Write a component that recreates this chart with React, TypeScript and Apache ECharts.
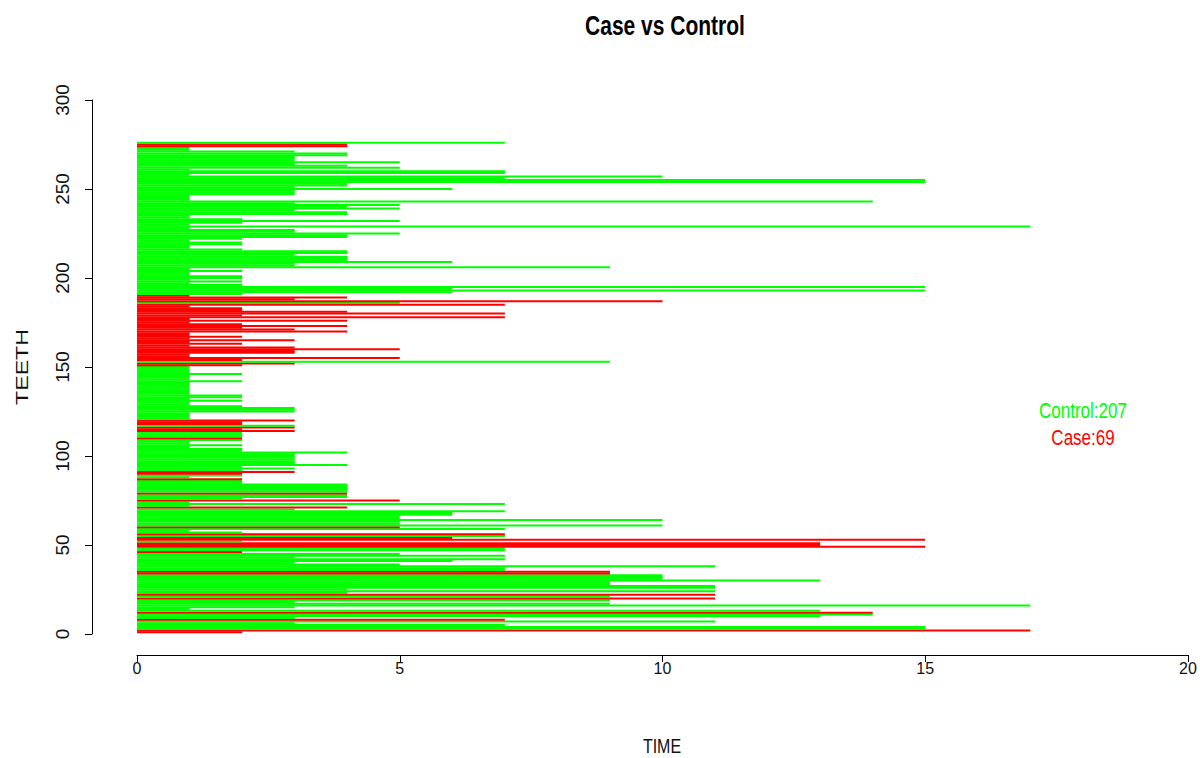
import React, { useEffect, useRef } from "react";
import * as echarts from "echarts";

// Follow-up time for each tooth, tooth 1 .. 276
const times: number[] = [
  2, 17, 15, 15, 7, 3, 11, 7, 3, 13,
  14, 14, 13, 1, 3, 17, 9, 3, 9, 11,
  9, 11, 4, 11, 4, 11, 11, 9, 9, 13,
  10, 10, 10, 9, 9, 7, 7, 11, 5, 3,
  6, 7, 3, 7, 5, 2, 7, 7, 15, 13,
  13, 2, 15, 6, 7, 7, 2, 1, 7, 5,
  10, 5, 5, 10, 5, 5, 6, 6, 7, 3,
  4, 1, 7, 1, 5, 2, 4, 4, 4, 4,
  4, 4, 4, 4, 2, 2, 2, 1, 2, 2,
  3, 2, 3, 2, 4, 3, 3, 3, 3, 3,
  3, 4, 2, 2, 1, 2, 1, 1, 2, 2,
  2, 2, 2, 3, 2, 3, 3, 2, 2, 3,
  1, 1, 1, 1, 3, 3, 3, 2, 1, 1,
  2, 1, 2, 2, 1, 1, 1, 1, 1, 1,
  1, 2, 1, 1, 1, 2, 1, 1, 1, 1,
  2, 3, 9, 2, 5, 1, 1, 3, 3, 5,
  3, 1, 2, 1, 3, 1, 2, 1, 1, 4,
  3, 2, 4, 2, 1, 4, 1, 7, 2, 7,
  4, 2, 2, 1, 7, 5, 10, 3, 4, 1,
  2, 6, 15, 6, 15, 2, 1, 2, 1, 2,
  2, 1, 1, 2, 1, 9, 3, 3, 6, 4,
  4, 4, 3, 4, 4, 2, 1, 1, 2, 2,
  1, 2, 4, 4, 5, 3, 3, 1, 17, 1,
  2, 5, 2, 1, 1, 4, 4, 3, 5, 4,
  5, 3, 14, 1, 1, 1, 3, 3, 3, 6,
  3, 4, 4, 15, 15, 7, 10, 1, 7, 7,
  1, 5, 4, 3, 5, 3, 3, 3, 4, 4,
  3, 1, 1, 4, 4, 7,
];

// 1 = case (red), 0 = control (green), tooth 1 .. 276
const isCase: number[] = [
  1, 1, 0, 0, 0, 0, 0, 1, 0, 0,
  0, 1, 0, 0, 0, 0, 0, 0, 0, 1,
  0, 1, 0, 0, 0, 0, 0, 0, 0, 0,
  0, 0, 0, 1, 1, 0, 0, 0, 0, 0,
  0, 0, 0, 0, 0, 1, 0, 0, 1, 1,
  1, 0, 1, 1, 0, 1, 0, 0, 0, 1,
  0, 0, 0, 0, 0, 0, 0, 0, 0, 0,
  1, 0, 0, 0, 1, 0, 0, 0, 1, 0,
  0, 0, 0, 0, 0, 0, 1, 0, 0, 1,
  1, 0, 0, 0, 0, 0, 0, 0, 0, 0,
  0, 0, 0, 0, 0, 0, 0, 0, 0, 1,
  0, 0, 0, 1, 1, 1, 0, 1, 1, 1,
  0, 0, 0, 0, 0, 0, 0, 0, 0, 0,
  0, 0, 0, 0, 0, 0, 0, 0, 0, 0,
  0, 0, 0, 0, 0, 0, 0, 0, 0, 0,
  1, 1, 0, 1, 1, 1, 1, 1, 1, 1,
  1, 1, 1, 1, 1, 1, 1, 1, 1, 1,
  1, 1, 1, 1, 1, 1, 1, 1, 1, 1,
  1, 1, 1, 1, 1, 0, 1, 1, 1, 1,
  0, 0, 0, 0, 0, 0, 0, 0, 0, 0,
  0, 0, 0, 0, 0, 0, 0, 0, 0, 0,
  0, 0, 0, 0, 0, 0, 0, 0, 0, 0,
  0, 0, 0, 0, 0, 0, 0, 0, 0, 0,
  0, 0, 0, 0, 0, 0, 0, 0, 0, 0,
  0, 0, 0, 0, 0, 0, 0, 0, 0, 0,
  0, 0, 0, 0, 0, 0, 0, 0, 0, 0,
  0, 0, 0, 0, 0, 0, 0, 0, 0, 0,
  0, 0, 0, 1, 1, 0,
];

const teeth: number[] = times.map((_, i) => i + 1);
const legendLabels: string[] = ["Control:207", "Case:69"];
const titleText = "Case vs Control";

const GREEN = "#00FF00";
const RED = "#FF0000";
const FONT = "Liberation Sans, Arial, sans-serif";

export default function App() {
  const ref = useRef<HTMLDivElement>(null);

  useEffect(() => {
    if (!ref.current) return;
    const chart = echarts.init(ref.current, null, { renderer: "svg" });
    const data = teeth.map((t, i) => [t, times[i], isCase[i]]);

    chart.setOption({
      animation: false,
      backgroundColor: "#ffffff",
      grid: { left: 137, right: 12, top: 100, bottom: 124 },
      xAxis: {
        type: "value",
        min: 0,
        max: 20,
        interval: 5,
        offset: 21,
        axisLine: { show: true, onZero: false, lineStyle: { color: "#000", width: 1 } },
        axisTick: { show: true, length: 7, lineStyle: { color: "#000" } },
        axisLabel: { margin: 5, fontSize: 16, color: "#111", fontFamily: FONT },
        splitLine: { show: false },
      },
      yAxis: {
        type: "value",
        min: 0,
        max: 300,
        interval: 50,
        offset: 45,
        axisLine: { show: true, onZero: false, lineStyle: { color: "#000", width: 1 } },
        axisTick: { show: true, length: 7, lineStyle: { color: "#000" } },
        axisLabel: { rotate: 90, margin: 20, fontSize: 19, color: "#111", fontFamily: FONT },
        splitLine: { show: false },
      },
      series: [
        {
          type: "custom",
          encode: { x: 1, y: 0 },
          data,
          renderItem: (params: any, api: any) => {
            const tooth = api.value(0);
            const t = api.value(1);
            const c = api.value(2);
            const p0 = api.coord([0, tooth]);
            const p1 = api.coord([t, tooth]);
            return {
              type: "line",
              shape: { x1: p0[0], y1: p0[1], x2: p1[0], y2: p1[1] },
              style: { stroke: c ? RED : GREEN, lineWidth: 2 },
            };
          },
        },
      ],
      graphic: [
        {
          type: "text",
          x: 665,
          y: 25,
          scaleY: 1.35,
          style: {
            text: titleText,
            fill: "#000",
            fontFamily: FONT,
            fontWeight: "bold",
            fontSize: 21,
            align: "center",
            verticalAlign: "middle",
          },
        },
        {
          type: "text",
          x: 662,
          y: 746,
          scaleY: 1.3,
          style: {
            text: "TIME",
            fill: "#111",
            fontFamily: FONT,
            fontSize: 16,
            align: "center",
            verticalAlign: "middle",
          },
        },
        {
          type: "text",
          x: 22,
          y: 367,
          rotation: Math.PI / 2,
          scaleX: 1.45,
          style: {
            text: "TEETH",
            fill: "#111",
            fontFamily: FONT,
            fontSize: 16,
            align: "center",
            verticalAlign: "middle",
          },
        },
        {
          type: "text",
          x: 1083,
          y: 410,
          scaleY: 1.35,
          style: {
            text: legendLabels[0],
            fill: GREEN,
            fontFamily: FONT,
            fontSize: 17,
            align: "center",
            verticalAlign: "middle",
          },
        },
        {
          type: "text",
          x: 1083,
          y: 437,
          scaleY: 1.35,
          style: {
            text: legendLabels[1],
            fill: RED,
            fontFamily: FONT,
            fontSize: 17,
            align: "center",
            verticalAlign: "middle",
          },
        },
      ],
    });

    return () => chart.dispose();
  }, []);

  return (
    <div
      ref={ref}
      style={{ position: "fixed", left: 0, top: 0, width: 1200, height: 758 }}
    />
  );
}
